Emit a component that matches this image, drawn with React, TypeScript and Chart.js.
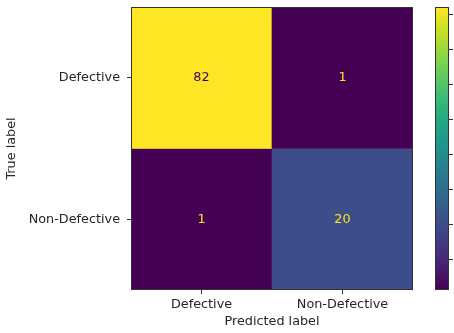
import React, { useEffect, useRef } from "react";
import { Chart, registerables } from "chart.js";

Chart.register(...registerables);

// Confusion matrix: rows = true label, columns = predicted label
const categories = ["Defective", "Non-Defective"];
const trueDefective = [82, 1];
const trueNonDefective = [1, 20];
const colorbarTicks = [10, 20, 30, 40, 50, 60, 70, 80];

const rows = [trueDefective, trueNonDefective];
const allValues = rows.flat();
const vmin = Math.min(...allValues);
const vmax = Math.max(...allValues);

// viridis colormap anchors
const VIRIDIS = [
  "#440154", "#482475", "#414487", "#355f8d", "#2a788e", "#21918c",
  "#22a884", "#44bf70", "#7ad151", "#bddf26", "#fde725",
];

function hexToRgb(h: string) {
  const n = parseInt(h.slice(1), 16);
  return [(n >> 16) & 255, (n >> 8) & 255, n & 255];
}

function viridis(t: number) {
  const c = Math.max(0, Math.min(1, t)) * (VIRIDIS.length - 1);
  const i = Math.min(Math.floor(c), VIRIDIS.length - 2);
  const f = c - i;
  const a = hexToRgb(VIRIDIS[i]);
  const b = hexToRgb(VIRIDIS[i + 1]);
  const m = a.map((v, k) => Math.round(v + (b[k] - v) * f));
  return `rgb(${m[0]},${m[1]},${m[2]})`;
}

const norm = (v: number) => (v - vmin) / (vmax - vmin);

const FONT = "'DejaVu Sans', sans-serif";
const FONT_SIZE = 12.8;
const TEXT = "#262626";
const EDGE = "#333333";

const cellLabels = {
  id: "cellLabels",
  afterDatasetsDraw(chart: any) {
    const ctx = chart.ctx;
    ctx.save();
    ctx.font = `${FONT_SIZE}px ${FONT}`;
    ctx.textAlign = "center";
    ctx.textBaseline = "middle";
    chart.data.datasets.forEach((ds: any, di: number) => {
      const meta = chart.getDatasetMeta(di);
      meta.data.forEach((bar: any, i: number) => {
        const v = ds.values[i];
        ctx.fillStyle = norm(v) < 0.5 ? VIRIDIS[VIRIDIS.length - 1] : VIRIDIS[0];
        const { x, y, base } = bar.getProps(["x", "y", "base"], true);
        ctx.fillText(String(v), x, (y + base) / 2);
      });
    });
    // plot frame
    const a = chart.chartArea;
    ctx.strokeStyle = EDGE;
    ctx.lineWidth = 1;
    ctx.strokeRect(a.left + 0.5, a.top + 0.5, a.right - a.left - 1, a.bottom - a.top - 1);
    ctx.restore();
  },
};

const colorbar = {
  id: "colorbar",
  afterDraw(chart: any) {
    const ctx = chart.ctx;
    const cb = chart.scales.cb;
    const a = chart.chartArea;
    const left = a.right + 22;
    const width = 14;
    const top = cb.getPixelForValue(vmax);
    const bottom = cb.getPixelForValue(vmin);
    ctx.save();
    const g = ctx.createLinearGradient(0, bottom, 0, top);
    VIRIDIS.forEach((c, i) => g.addColorStop(i / (VIRIDIS.length - 1), c));
    ctx.fillStyle = g;
    ctx.fillRect(left, top, width, bottom - top);
    ctx.strokeStyle = EDGE;
    ctx.lineWidth = 1;
    ctx.strokeRect(left + 0.5, top + 0.5, width - 1, bottom - top - 1);
    ctx.beginPath();
    colorbarTicks.forEach((t) => {
      const y = Math.round(cb.getPixelForValue(t)) + 0.5;
      ctx.moveTo(left + width, y);
      ctx.lineTo(left + width + 4, y);
    });
    ctx.stroke();
    ctx.fillStyle = TEXT;
    ctx.font = `${FONT_SIZE}px ${FONT}`;
    ctx.textBaseline = "middle";
    colorbarTicks.forEach((t) => {
      ctx.fillText(String(t), left + width + 7, cb.getPixelForValue(t));
    });
    ctx.restore();
  },
};

export default function App() {
  const ref = useRef<HTMLCanvasElement>(null);

  useEffect(() => {
    document.body.style.overflow = "hidden";
    const datasets = rows.map((vals, r) => ({
      label: categories[r],
      values: vals,
      data: vals.map((_, c) => ({ x: categories[c], y: [r - 0.5, r + 0.5] })),
      backgroundColor: vals.map((v) => viridis(norm(v))),
      borderWidth: 0,
      grouped: false,
      barPercentage: 1,
      categoryPercentage: 1,
    }));

    const chart = new Chart(ref.current!, {
      type: "bar",
      data: { labels: categories, datasets: datasets as any },
      plugins: [cellLabels, colorbar],
      options: {
        animation: false,
        responsive: false,
        layout: { padding: { top: 7, right: 41, left: 0, bottom: 0 } },
        plugins: { legend: { display: false }, tooltip: { enabled: false } },
        scales: {
          x: {
            type: "category",
            offset: true,
            grid: { display: true, drawOnChartArea: false, offset: false, tickLength: 4, color: EDGE },
            border: { display: false },
            ticks: { color: TEXT, font: { family: FONT, size: FONT_SIZE }, padding: 3, maxRotation: 0 },
            title: { display: true, text: "Predicted label", color: TEXT, font: { family: FONT, size: FONT_SIZE }, padding: { top: 2, bottom: 4 } },
            afterFit: (s: any) => {
              s.height = 43;
              s.paddingLeft = 0;
              s.paddingRight = 0;
            },
          },
          y: {
            type: "linear",
            reverse: true,
            min: -0.5,
            max: 1.5,
            afterBuildTicks: (s: any) => { s.ticks = categories.map((_, i) => ({ value: i })); },
            grid: { display: true, drawOnChartArea: false, tickLength: 4, color: EDGE },
            border: { display: false },
            ticks: {
              color: TEXT,
              font: { family: FONT, size: FONT_SIZE },
              padding: 7,
              callback: (v: any) => categories[v as number] ?? "",
            },
            title: { display: true, text: "True label", color: TEXT, font: { family: FONT, size: FONT_SIZE }, padding: { top: 4, bottom: 4 } },
            afterFit: (s: any) => {
              s.width = 131;
              s.paddingTop = 0;
              s.paddingBottom = 0;
            },
          },
          cb: {
            type: "linear",
            position: "right",
            display: false,
            min: vmin,
            max: vmax,
          },
        },
      },
    });
    return () => chart.destroy();
  }, []);

  return (
    <div style={{ position: "fixed", left: 0, top: 0, width: 454, height: 333, overflow: "hidden", background: "#fff" }}>
      <canvas ref={ref} width={454} height={333} style={{ display: "block" }} />
    </div>
  );
}
